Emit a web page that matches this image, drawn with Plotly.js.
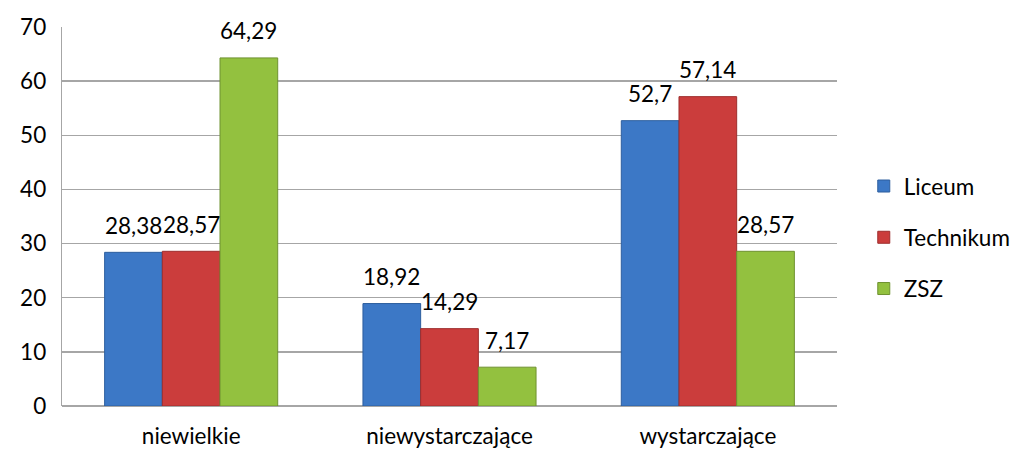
<!DOCTYPE html>
<html><head><meta charset="utf-8">
<script src="https://cdn.plot.ly/plotly-3.0.1.min.js"></script>
<style>body{margin:0;background:#fff}#c{width:1021px;height:453px}</style>
</head><body><div id="c"></div>
<script>
const categories = ['niewielkie', 'niewystarczające', 'wystarczające'];
const liceum = [28.38, 18.92, 52.7];
const technikum = [28.57, 14.29, 57.14];
const zsz = [64.29, 7.17, 28.57];
const seriesNames = ['Liceum', 'Technikum', 'ZSZ'];
const colors = ['#3C78C6', '#CB3D3C', '#93C13F'];
const lines = ['#2D5E9E', '#9E2E2D', '#6F9230'];
const fmt = v => String(v).replace('.', ',');
const font = 'Lato, "Open Sans", sans-serif';
const fs = 22.5;
const allSeries = [liceum, technikum, zsz];
const traces = allSeries.map((vals, i) => ({
  type: 'bar', x: categories, y: vals, name: seriesNames[i],
  legendgroup: 'g' + i, offsetgroup: 'g' + i,
  marker: {color: colors[i], line: {color: lines[i], width: 1}},
  hoverinfo: 'none'
}));
const layout = {
  width: 1021, height: 453,
  margin: {l: 62, r: 184, t: 27, b: 47},
  paper_bgcolor: '#fff', plot_bgcolor: '#fff',
  barmode: 'group', bargap: 0.33, bargroupgap: 0,
  font: {family: font, size: fs, color: '#000'},
  xaxis: {showgrid: false, showline: false, ticks: '', ticklabelstandoff: 14, tickfont: {size: fs, family: font}},
  yaxis: {range: [0, 70], dtick: 10, showgrid: true, gridcolor: '#A6A6A6', gridwidth: 1.3,
          showline: true, linecolor: '#A6A6A6', linewidth: 1.3, zeroline: true, zerolinecolor: '#A6A6A6', zerolinewidth: 1.3,
          ticks: '', ticklabelstandoff: 10, tickfont: {size: fs, family: font}},
  showlegend: true,
  legend: {xref: 'container', yref: 'container', x: 0.846, y: 0.636, xanchor: 'left', yanchor: 'top', tracegroupgap: 19,
           font: {size: fs, family: font}, itemwidth: 30, traceorder: 'grouped'},
  annotations: []
};
// data labels positioned via axis coordinates
const nS = allSeries.length, groupW = 1 - 0.33, barW = groupW / nS;
allSeries.forEach((vals, i) => {
  vals.forEach((v, j) => {
    layout.annotations.push({
      xref: 'x', yref: 'y', x: j - groupW / 2 + barW * (i + 0.5), y: v,
      text: fmt(v), showarrow: false, yanchor: 'middle', yshift: 27,
      font: {family: font, size: fs, color: '#000'}
    });
  });
});
Plotly.newPlot('c', traces, layout, {displayModeBar: false, staticPlot: true});
</script></body></html>
